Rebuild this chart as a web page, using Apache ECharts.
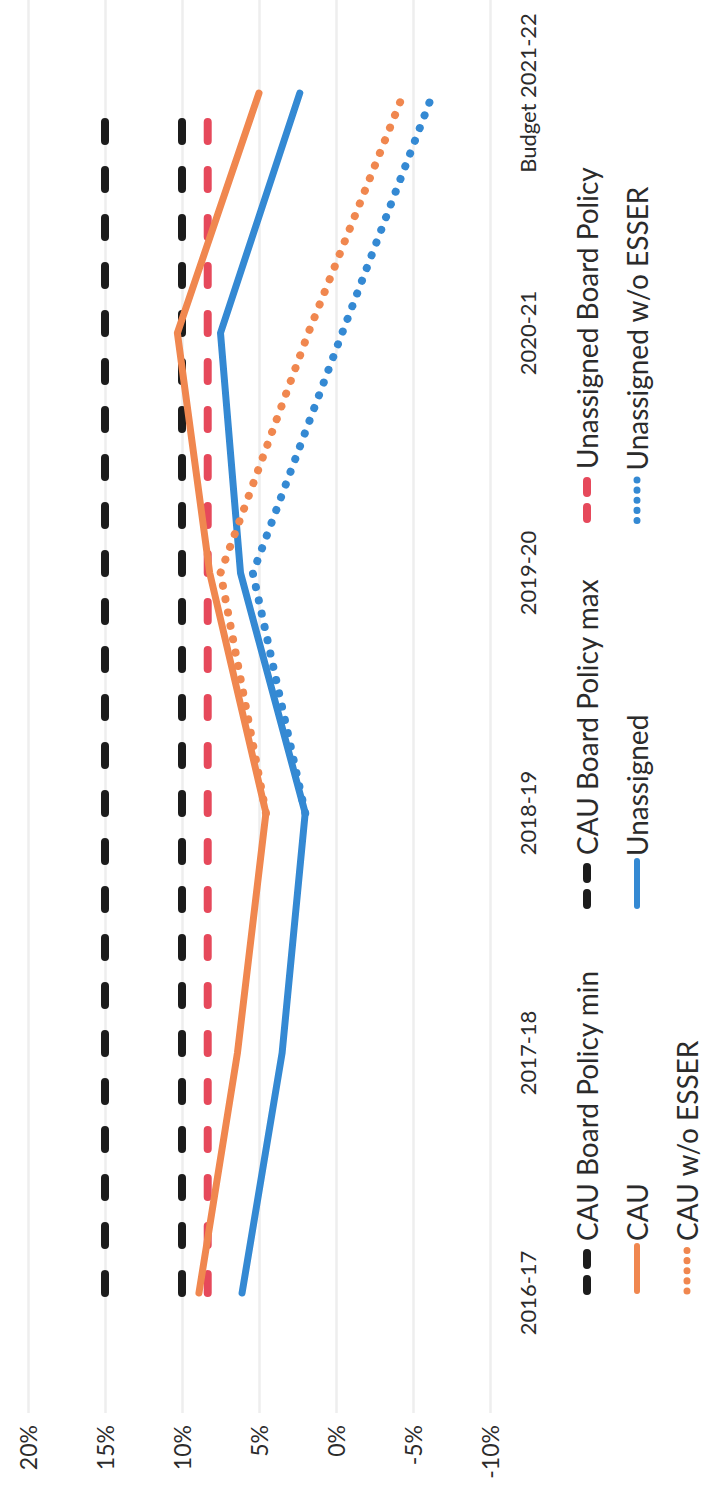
<!DOCTYPE html>
<html><head><meta charset="utf-8">
<script src="https://cdn.jsdelivr.net/npm/echarts@6/dist/echarts.min.js"></script>
<style>
html,body{margin:0;padding:0;width:717px;height:1503px;overflow:hidden;background:#fff;}
#chart{position:absolute;left:0;top:1503px;width:1530px;height:717px;transform-origin:0 0;transform:rotate(-90deg);}
</style></head><body><div id="chart"></div>
<script>
const categories = ['2016-17', '2017-18', '2018-19', '2019-20', '2020-21', 'Budget 2021-22'];
const valueTicks = [-10, -5, 0, 5, 10, 15, 20];
const cauPolicyMin = [10, 10, 10, 10, 10, 10];
const cauPolicyMax = [15, 15, 15, 15, 15, 15];
const unassignedPolicy = [8.33, 8.33, 8.33, 8.33, 8.33, 8.33];
const cau = [8.9, 6.4, 4.55, 8.2, 10.3, 5.0];
const unassigned = [6.1, 3.5, 2.0, 6.2, 7.5, 2.35];
const unassignedNoEsser = [null, null, 2.0, 5.4, -0.4, -6.3];
const cauNoEsser = [null, null, 4.55, 7.5, 1.8, -4.4];

const FONT = 'Lato';
const TXT = '#2b2b2b';
const BLACK = '#1c1c1c', RED = '#e6495b', ORANGE = '#f0874f', BLUE = '#3489d3';

function dashed(name, data, color) {
  return { name, type: 'line', data, symbol: 'none', showSymbol: false, silent: true,
    lineStyle: { color, width: 8, type: [19, 29], cap: 'round' }, itemStyle: { color } };
}
function solid(name, data, color) {
  return { name, type: 'line', data, symbol: 'none', showSymbol: false, silent: true,
    lineStyle: { color, width: 7, cap: 'round', join: 'round' }, itemStyle: { color } };
}
function dotted(name, data, color) {
  return { name, type: 'line', data, symbol: 'none', showSymbol: false, silent: true, connectNulls: false,
    lineStyle: { color, width: 8, type: [0.1, 13.5], cap: 'round' }, itemStyle: { color } };
}

const chart = echarts.init(document.getElementById('chart'), null, { renderer: 'svg' });
chart.setOption({
  animation: false,
  backgroundColor: '#fff',
  grid: { left: 90, right: 0, top: 28, bottom: 227 },
  xAxis: {
    type: 'category', data: categories, boundaryGap: true,
    axisLine: { show: false }, axisTick: { show: false },
    axisLabel: { fontSize: 22, fontFamily: FONT, color: TXT, margin: 26 }
  },
  yAxis: {
    type: 'value', min: valueTicks[0], max: valueTicks[valueTicks.length - 1], interval: 5,
    axisLine: { show: false }, axisTick: { show: false },
    axisLabel: { fontSize: 23, fontFamily: FONT, color: TXT, margin: 12, formatter: '{value}%' },
    splitLine: { lineStyle: { color: '#eeeeee', width: 2.5 } }
  },
  legend: {
    left: 203, top: 567, width: 1220, itemWidth: 45, itemHeight: 14, itemGap: 20,
    itemStyle: { opacity: 0 },
    textStyle: { fontSize: 28, fontFamily: FONT, color: TXT, width: 312, lineHeight: 30 },
    data: [
      { name: 'CAU Board Policy min', lineStyle: { type: [12, 14], width: 8, cap: 'round' } },
      { name: 'CAU Board Policy max', lineStyle: { type: [12, 14], width: 8, cap: 'round' } },
      { name: 'Unassigned Board Policy', lineStyle: { type: [12, 14], width: 8, cap: 'round' } },
      { name: 'CAU', lineStyle: { width: 6 } },
      { name: 'Unassigned', lineStyle: { width: 6 } },
      { name: 'Unassigned w/o ESSER', lineStyle: { type: [0.1, 10], width: 7, cap: 'round' } },
      { name: 'CAU w/o ESSER', lineStyle: { type: [0.1, 10], width: 7, cap: 'round' } }
    ]
  },
  series: [
    dashed('CAU Board Policy min', cauPolicyMin, BLACK),
    dashed('CAU Board Policy max', cauPolicyMax, BLACK),
    dashed('Unassigned Board Policy', unassignedPolicy, RED),
    solid('CAU', cau, ORANGE),
    solid('Unassigned', unassigned, BLUE),
    dotted('Unassigned w/o ESSER', unassignedNoEsser, BLUE),
    dotted('CAU w/o ESSER', cauNoEsser, ORANGE)
  ]
});
</script></body></html>
